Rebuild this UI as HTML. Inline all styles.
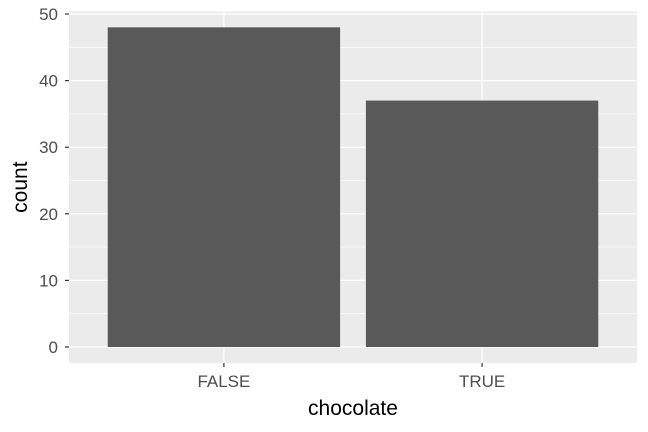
<!DOCTYPE html>
<html><head><meta charset="utf-8"><style>body{margin:0;background:#fff}svg{display:block}text{font-family:"Liberation Sans",sans-serif}</style></head>
<body>
<svg id="chart" width="648" height="432" xmlns="http://www.w3.org/2000/svg"></svg>
<script>
const categories = ["FALSE", "TRUE"];
const counts = [48, 37];
const yTicks = [0, 10, 20, 30, 40, 50];
const NS = "http://www.w3.org/2000/svg";
const svg = document.getElementById('chart');
const pL = 69, pR = 637, zeroY = 347, unit = 6.66;
const yMin = -2.4, yMax = 50.4;
const y = v => zeroY - v * unit;
const step = (pR - pL) / (categories.length - 1 + 1.2);
const x = i => pL + step * (0.6 + i);
function el(tag, attrs, parent) { const e = document.createElementNS(NS, tag); for (const k in attrs) e.setAttribute(k, attrs[k]); (parent || svg).appendChild(e); return e; }
const pTop = y(yMax), pBot = y(yMin);
const panel = el('rect', {x: pL, y: pTop, width: pR - pL, height: pBot - pTop, fill: '#EBEBEB'});


for (let i = 0; i < yTicks.length - 1; i++) {
  const m = el('line', {x1: pL, x2: pR, y1: y((yTicks[i] + yTicks[i+1]) / 2), y2: y((yTicks[i] + yTicks[i+1]) / 2), stroke: '#fff', 'stroke-width': 0.6});
  
  
}
yTicks.forEach(t => {
  const g = el('line', {x1: pL, x2: pR, y1: y(t), y2: y(t), stroke: '#fff', 'stroke-width': 1.2});
  
  
  const tk = el('line', {x1: pL - 4, x2: pL, y1: y(t), y2: y(t), stroke: '#333', 'stroke-width': 1.2});
  
  
  const lb = el('text', {x: pL - 11, y: y(t) + 6, 'text-anchor': 'end', 'font-size': 17, fill: '#4D4D4D'});
  lb.textContent = t;
  
  
});
categories.forEach((c, i) => {
  const g = el('line', {x1: x(i), x2: x(i), y1: pTop, y2: pBot, stroke: '#fff', 'stroke-width': 1.2});
  
  
});
categories.forEach((c, i) => {
  const w = step * 0.9;
  const b = el('rect', {x: x(i) - w / 2, y: y(counts[i]), width: w, height: y(0) - y(counts[i]), fill: '#595959'});
  
  
  const tk = el('line', {x1: x(i), x2: x(i), y1: pBot, y2: pBot + 4, stroke: '#333', 'stroke-width': 1.2});
  
  
  const lb = el('text', {x: x(i), y: pBot + 24, 'text-anchor': 'middle', 'font-size': 17, fill: '#4D4D4D'});
  lb.textContent = c;
  
  
});
const xt = el('text', {x: (pL + pR) / 2, y: 415, 'text-anchor': 'middle', 'font-size': 21, fill: '#000'});
xt.textContent = 'chocolate';


const yt = el('text', {x: 0, y: 0, transform: `translate(27,${(pTop + pBot) / 2}) rotate(-90)`, 'text-anchor': 'middle', 'font-size': 21, fill: '#000'});
yt.textContent = 'count';


</script>
</body></html>
